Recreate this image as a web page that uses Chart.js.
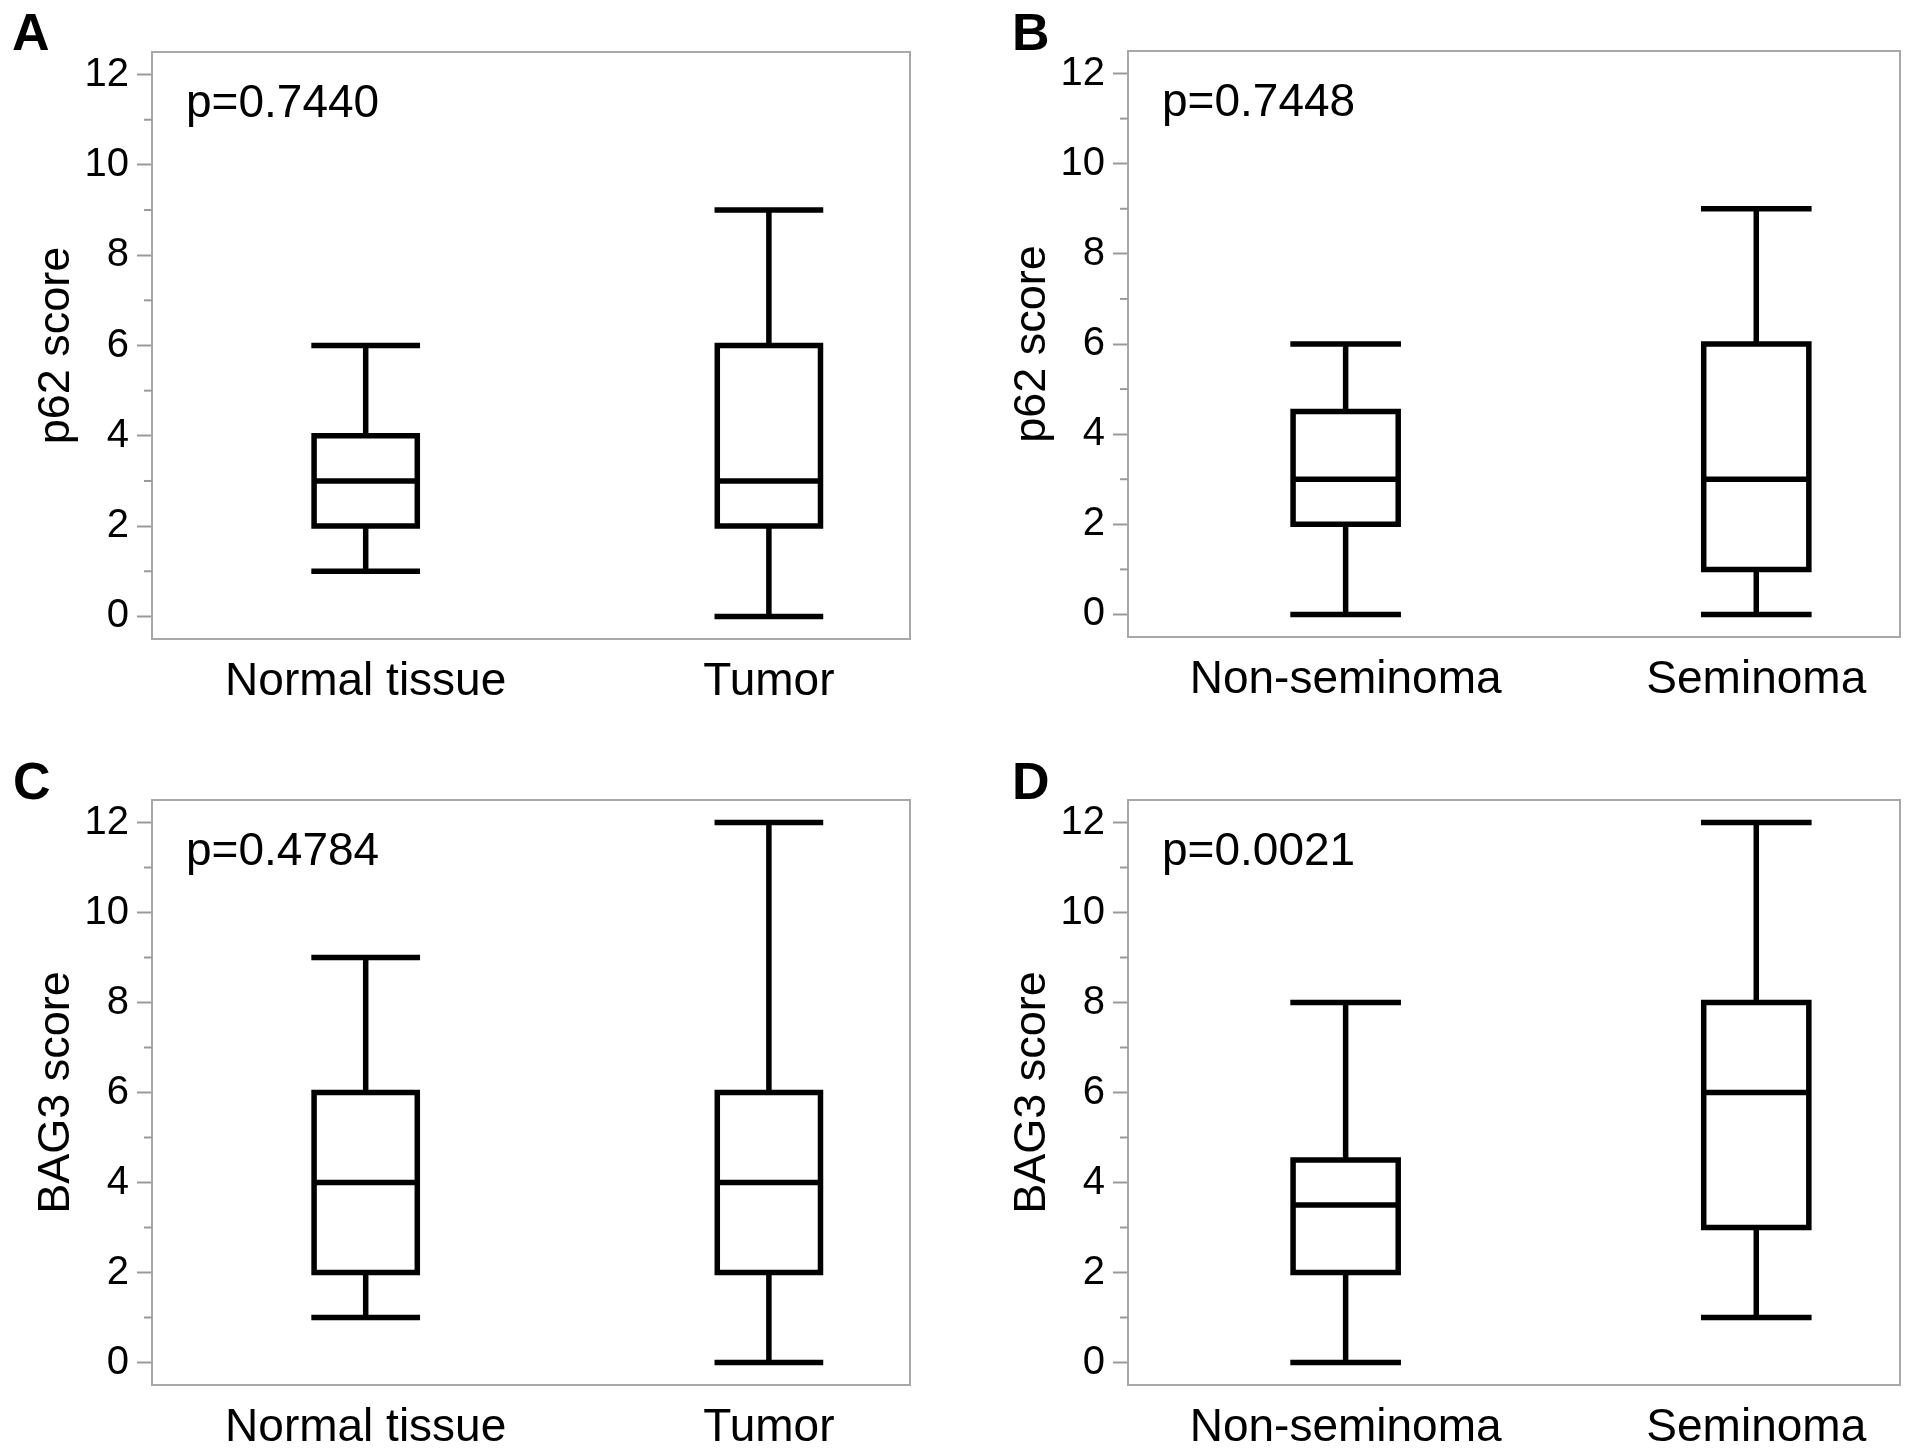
<!DOCTYPE html>
<html>
<head>
<meta charset="utf-8">
<script src="https://cdn.jsdelivr.net/npm/chart.js@4.4.1/dist/chart.umd.min.js"></script>
<style>
  body { margin: 0; background: #fff; }
  #fig { position: relative; width: 1913px; height: 1455px; }
  .panel { position: absolute; }
</style>
</head>
<body>
<div id="fig">
  <div class="panel" style="left:0;top:0;width:956px;height:727px"><canvas id="chartA"></canvas></div>
  <div class="panel" style="left:976px;top:0;width:937px;height:727px"><canvas id="chartB"></canvas></div>
  <div class="panel" style="left:0;top:727px;width:956px;height:728px"><canvas id="chartC"></canvas></div>
  <div class="panel" style="left:976px;top:727px;width:937px;height:728px"><canvas id="chartD"></canvas></div>
</div>
<script>
// categories
var catsTissue = ['Normal tissue', 'Tumor'];
var catsType = ['Non-seminoma', 'Seminoma'];

// box summaries: [min, q1, median, q3, max]
var p62Normal = [1, 2, 3, 4, 6];
var p62Tumor = [0, 2, 3, 6, 9];
var p62NonSem = [0, 2, 3, 4.5, 6];
var p62Sem = [0, 1, 3, 6, 9];
var bag3Normal = [1, 2, 4, 6, 9];
var bag3Tumor = [0, 2, 4, 6, 12];
var bag3NonSem = [0, 2, 3.5, 4.5, 8];
var bag3Sem = [1, 3, 6, 8, 12];

var pValues = ['p=0.7440', 'p=0.7448', 'p=0.4784', 'p=0.0021'];
var yTitles = ['p62 score', 'p62 score', 'BAG3 score', 'BAG3 score'];
var panelLetters = ['A', 'B', 'C', 'D'];
var yTicks = [0, 1, 2, 3, 4, 5, 6, 7, 8, 9, 10, 11, 12];

var FONT = "'Liberation Sans', Arial, Helvetica, sans-serif";
var BOX_HALF = 0.128;
var TICK_GREY = '#9a9a9a';

Chart.defaults.font.family = FONT;
Chart.defaults.color = '#000';

function boxPoints(pos, s) {
  var h = BOX_HALF;
  var gap = {x: pos, y: null};
  return [
    {x: pos - h, y: s[1]}, {x: pos + h, y: s[1]}, {x: pos + h, y: s[3]}, {x: pos - h, y: s[3]}, {x: pos - h, y: s[1]}, gap,
    {x: pos - h, y: s[2]}, {x: pos + h, y: s[2]}, gap,
    {x: pos, y: s[3]}, {x: pos, y: s[4]}, gap,
    {x: pos - h, y: s[4]}, {x: pos + h, y: s[4]}, gap,
    {x: pos, y: s[1]}, {x: pos, y: s[0]}, gap,
    {x: pos - h, y: s[0]}, {x: pos + h, y: s[0]}
  ];
}

// frame, minor ticks, p value and panel letter
var decorations = {
  id: 'decorations',
  beforeDatasetsDraw: function(chart) {
    var a = chart.chartArea, ctx = chart.ctx;
    ctx.save();
    ctx.strokeStyle = '#a8a8a8';
    ctx.lineWidth = 2;
    ctx.strokeRect(a.left, a.top, a.right - a.left, a.bottom - a.top);
    var ys = chart.scales.y;
    ctx.strokeStyle = TICK_GREY;
    yTicks.forEach(function(v) {
      if (v % 2 === 1) {
        var py = ys.getPixelForValue(v);
        ctx.beginPath();
        ctx.moveTo(a.left - 8, py);
        ctx.lineTo(a.left, py);
        ctx.stroke();
      }
    });
    ctx.restore();
  },
  afterDraw: function(chart, args, opts) {
    var a = chart.chartArea, ctx = chart.ctx;
    ctx.save();
    ctx.fillStyle = '#000';
    ctx.textBaseline = 'alphabetic';
    ctx.font = '46px ' + FONT;
    ctx.fillText(opts.pText, a.left + 34, a.top + 65);
    ctx.font = 'bold 52px ' + FONT;
    ctx.fillText(opts.letter, opts.letterX, opts.letterY);
    ctx.restore();
  }
};

var panels = [
  {id: 'chartA', cats: catsTissue, boxes: [p62Normal, p62Tumor], padTop: 52, padRight: 46, xH: 88, letterX: 12, letterY: 50},
  {id: 'chartB', cats: catsType, boxes: [p62NonSem, p62Sem], padTop: 51, padRight: 13, xH: 90, letterX: 36, letterY: 50},
  {id: 'chartC', cats: catsTissue, boxes: [bag3Normal, bag3Tumor], padTop: 73, padRight: 46, xH: 70, letterX: 13, letterY: 72},
  {id: 'chartD', cats: catsType, boxes: [bag3NonSem, bag3Sem], padTop: 73, padRight: 13, xH: 70, letterX: 36, letterY: 72}
];

panels.forEach(function(p, k) {
  var datasets = p.boxes.map(function(s, i) {
    return {
      data: boxPoints(i + 1, s),
      borderColor: '#000',
      borderWidth: 5.5,
      borderCapStyle: 'square',
      borderJoinStyle: 'miter',
      borderDash: [4000, 0],
      pointRadius: 0,
      fill: false,
      spanGaps: false
    };
  });

  new Chart(document.getElementById(p.id), {
    type: 'line',
    data: {datasets: datasets},
    plugins: [decorations],
    options: {
      responsive: true,
      maintainAspectRatio: false,
      animation: false,
      devicePixelRatio: 1,
      layout: {padding: {top: p.padTop, right: p.padRight, left: 0, bottom: 0}},
      plugins: {
        legend: {display: false},
        tooltip: {enabled: false},
        decorations: {pText: pValues[k], letter: panelLetters[k], letterX: p.letterX, letterY: p.letterY}
      },
      scales: {
        x: {
          type: 'linear',
          min: 0.47,
          max: 2.35,
          afterBuildTicks: function(ax) {
            ax.ticks = p.cats.map(function(c, i) { return {value: i + 1}; });
          },
          afterFit: function(ax) { ax.height = p.xH; },
          ticks: {
            callback: function(v, i) { return p.cats[i]; },
            font: {size: 46},
            color: '#000',
            padding: 16,
            maxRotation: 0,
            autoSkip: false
          },
          grid: {display: false, drawTicks: false},
          border: {display: false}
        },
        y: {
          type: 'linear',
          min: -0.5,
          max: 12.5,
          afterBuildTicks: function(ax) {
            ax.ticks = yTicks.map(function(v) { return {value: v}; });
          },
          afterFit: function(ax) { ax.width = 152; },
          ticks: {
            callback: function(v) { return v % 2 === 0 ? String(v) : ''; },
            font: {size: 40},
            color: '#000',
            padding: 8,
            autoSkip: false
          },
          grid: {
            drawOnChartArea: false,
            drawTicks: true,
            tickLength: 15,
            tickWidth: 2,
            tickColor: function(c) { return c.tick && c.tick.value % 2 === 1 ? 'rgba(0,0,0,0)' : TICK_GREY; }
          },
          border: {display: false},
          title: {
            display: true,
            text: yTitles[k],
            font: {size: 45},
            color: '#000',
            padding: {top: 30, bottom: 0}
          }
        }
      }
    }
  });
});
</script>
</body>
</html>
